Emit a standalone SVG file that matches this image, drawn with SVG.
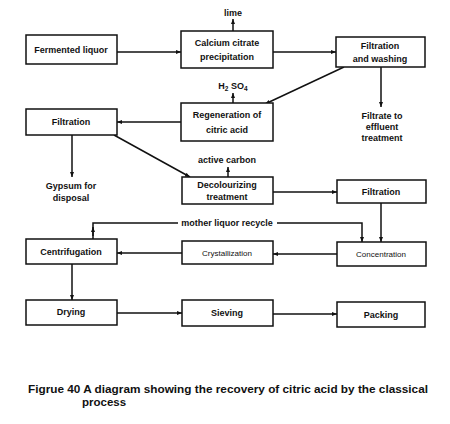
<svg xmlns="http://www.w3.org/2000/svg" width="450" height="424" viewBox="0 0 450 424">
<defs>
<marker id="ah" viewBox="0 0 10 10" refX="10" refY="5" markerWidth="5" markerHeight="5" orient="auto" markerUnits="userSpaceOnUse">
<path d="M0,1 L10,5 L0,9 z" fill="#111"/>
</marker>
</defs>
<style>
rect{fill:#fff;stroke:#111;stroke-width:1.5}
text{font-family:"Liberation Sans",Arial,sans-serif;font-size:9px;font-weight:bold;fill:#111;text-anchor:middle}
.c line,.c polyline{stroke:#111;stroke-width:1.5;fill:none}
.cap{font-size:11.5px;text-anchor:start}
.thin{font-weight:normal;font-size:8px}
</style>
<rect x="0" y="0" width="450" height="424" style="stroke:none"/>
<g class="c" id="connectors">
<line x1="117" y1="52" x2="181" y2="52" marker-end="url(#ah)"/>
<line x1="273" y1="52" x2="336" y2="52" marker-end="url(#ah)"/>
<line x1="233" y1="31" x2="233" y2="19" marker-end="url(#ah)"/>
<line x1="381" y1="67" x2="381" y2="107" marker-end="url(#ah)"/>
<line x1="344" y1="67" x2="265" y2="104" marker-end="url(#ah)"/>
<line x1="233" y1="103" x2="233" y2="93" marker-end="url(#ah)"/>
<line x1="181" y1="122" x2="117" y2="122" marker-end="url(#ah)"/>
<line x1="72" y1="135" x2="72" y2="177" marker-end="url(#ah)"/>
<line x1="114" y1="135" x2="190" y2="177" marker-end="url(#ah)"/>
<line x1="228" y1="177" x2="228" y2="167" marker-end="url(#ah)"/>
<line x1="273" y1="192" x2="337" y2="192" marker-end="url(#ah)"/>
<line x1="381" y1="203" x2="381" y2="242" marker-end="url(#ah)"/>
<polyline points="93,239 93,223 178,223"/>
<line x1="93" y1="236" x2="93" y2="227" marker-end="url(#ah)"/>
<polyline points="277,223 362,223 362,242" marker-end="url(#ah)"/>
<line x1="337" y1="254" x2="273" y2="254" marker-end="url(#ah)"/>
<line x1="182" y1="253" x2="117" y2="253" marker-end="url(#ah)"/>
<line x1="72" y1="264" x2="72" y2="300" marker-end="url(#ah)"/>
<line x1="117" y1="313" x2="182" y2="313" marker-end="url(#ah)"/>
<line x1="273" y1="314" x2="337" y2="314" marker-end="url(#ah)"/>
</g>
<g id="fermented"><rect x="26" y="35" width="91" height="29"/><text x="71" y="53">Fermented  liquor</text></g>
<g id="calcium"><rect x="181" y="31" width="92" height="37"/><text x="227" y="46">Calcium citrate</text><text x="227" y="60">precipitation</text></g>
<g id="lime"><text x="233" y="16">lime</text></g>
<g id="filtwash"><rect x="336" y="37" width="89" height="30"/><text x="380" y="49">Filtration</text><text x="380" y="62">and washing</text></g>
<g id="effluent"><text x="382" y="119">Filtrate to</text><text x="382" y="130">effluent</text><text x="382" y="141">treatment</text></g>
<g id="h2so4"><text x="233" y="89">H<tspan font-size="6.5" dy="1.5">2</tspan><tspan dy="-1.5"> SO</tspan><tspan font-size="6.5" dy="1.5">4</tspan></text></g>
<g id="regen"><rect x="181" y="103" width="92" height="38"/><text x="227" y="118">Regeneration  of</text><text x="227" y="133">citric acid</text></g>
<g id="filt1"><rect x="26" y="109" width="91" height="26"/><text x="71" y="125">Filtration</text></g>
<g id="gypsum"><text x="71" y="189">Gypsum for</text><text x="71" y="201">disposal</text></g>
<g id="carbon"><text x="227" y="163">active carbon</text></g>
<g id="decol"><rect x="182" y="177" width="91" height="27"/><text x="227" y="188">Decolourizing</text><text x="227" y="200">treatment</text></g>
<g id="filt2"><rect x="337" y="180" width="89" height="23"/><text x="381" y="195">Filtration</text></g>
<g id="recycle"><text x="227" y="226">mother liquor recycle</text></g>
<g id="conc"><rect x="337" y="242" width="89" height="24"/><text x="381" y="257" class="thin">Concentration</text></g>
<g id="cryst"><rect x="182" y="241" width="91" height="23"/><text x="227" y="256" class="thin">Crystallization</text></g>
<g id="centri"><rect x="26" y="239" width="91" height="25"/><text x="71" y="255">Centrifugation</text></g>
<g id="drying"><rect x="26" y="300" width="91" height="25"/><text x="71" y="315">Drying</text></g>
<g id="sieving"><rect x="182" y="300" width="91" height="26"/><text x="227" y="316">Sieving</text></g>
<g id="packing"><rect x="337" y="302" width="88" height="25"/><text x="381" y="318">Packing</text></g>
<g id="caption"><text class="cap" x="28" y="393" textLength="400" lengthAdjust="spacingAndGlyphs">Figrue 40 A diagram showing the recovery of citric acid by the classical</text><text class="cap" x="82" y="406">process</text></g>
</svg>
